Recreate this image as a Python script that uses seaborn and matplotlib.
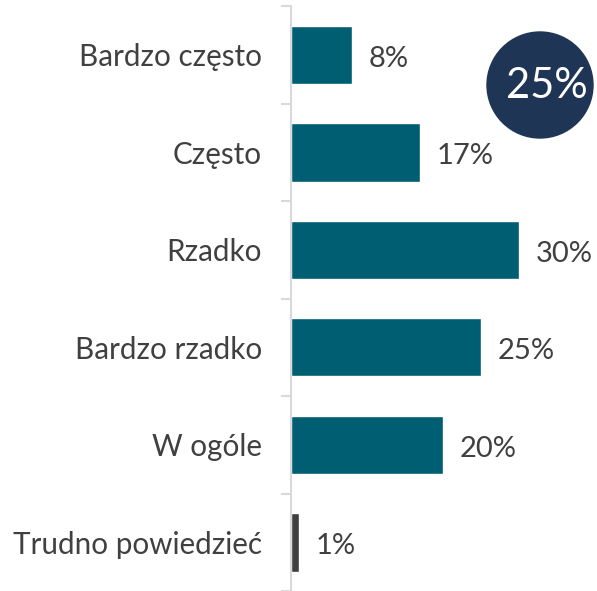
import matplotlib
matplotlib.use("Agg")
import matplotlib.pyplot as plt
from matplotlib.patches import Ellipse
from matplotlib.ticker import FixedLocator
import pandas as pd
import seaborn as sns

categories = ["Bardzo często", "Często", "Rzadko", "Bardzo rzadko", "W ogóle", "Trudno powiedzieć"]
values = [8, 17, 30, 25, 20, 1]
value_labels = ["8%", "17%", "30%", "25%", "20%", "1%"]
bar_colors = ["#005E72", "#005E72", "#005E72", "#005E72", "#005E72", "#3F3F3F"]
badge_text = "25%"

TEXT = "#404040"
GRID = "#D9D9D9"

sns.set_style("white")
plt.rcParams["font.family"] = ["Lato", "DejaVu Sans"]

df = pd.DataFrame({"cat": categories, "val": values})

fig = plt.figure(figsize=(5.97, 5.91), dpi=100)
ax = fig.add_axes([291 / 597, 0, 306 / 597, 585 / 591])

sns.barplot(data=df, x="val", y="cat", hue="cat", palette=bar_colors,
            orient="h", width=0.6, saturation=1, legend=False, ax=ax)

ax.set_xlim(0, 306 / 7.6)
ax.set_ylim(len(categories) - 0.5, -0.5)
ax.set_xlabel("")
ax.set_ylabel("")
ax.set_xticks([])

for s in ["top", "right", "bottom"]:
    ax.spines[s].set_visible(False)
ax.spines["left"].set_color(GRID)
ax.spines["left"].set_linewidth(1.5)

ax.tick_params(axis="y", which="major", left=False, length=0, pad=21,
               labelsize=21.3, labelcolor=TEXT)
ax.yaxis.set_minor_locator(FixedLocator([i - 0.5 for i in range(len(categories) + 1)]))
ax.tick_params(axis="y", which="minor", left=True, length=7.5, width=1.5, color=GRID)

for i, (v, lab) in enumerate(zip(values, value_labels)):
    ax.text(v + 2.2, i + 0.04, lab, va="center", ha="left", fontsize=21, color=TEXT)

# badge circle
fig.add_artist(Ellipse((540 / 597, 1 - 85 / 591), 106 / 597, 106 / 591,
                       transform=fig.transFigure, color="#1F3556", zorder=5))
fig.text(547 / 597, 1 - 86 / 591, badge_text, ha="center", va="center",
         fontsize=30, color="white", zorder=6)

fig.savefig("out.png", dpi=100)
